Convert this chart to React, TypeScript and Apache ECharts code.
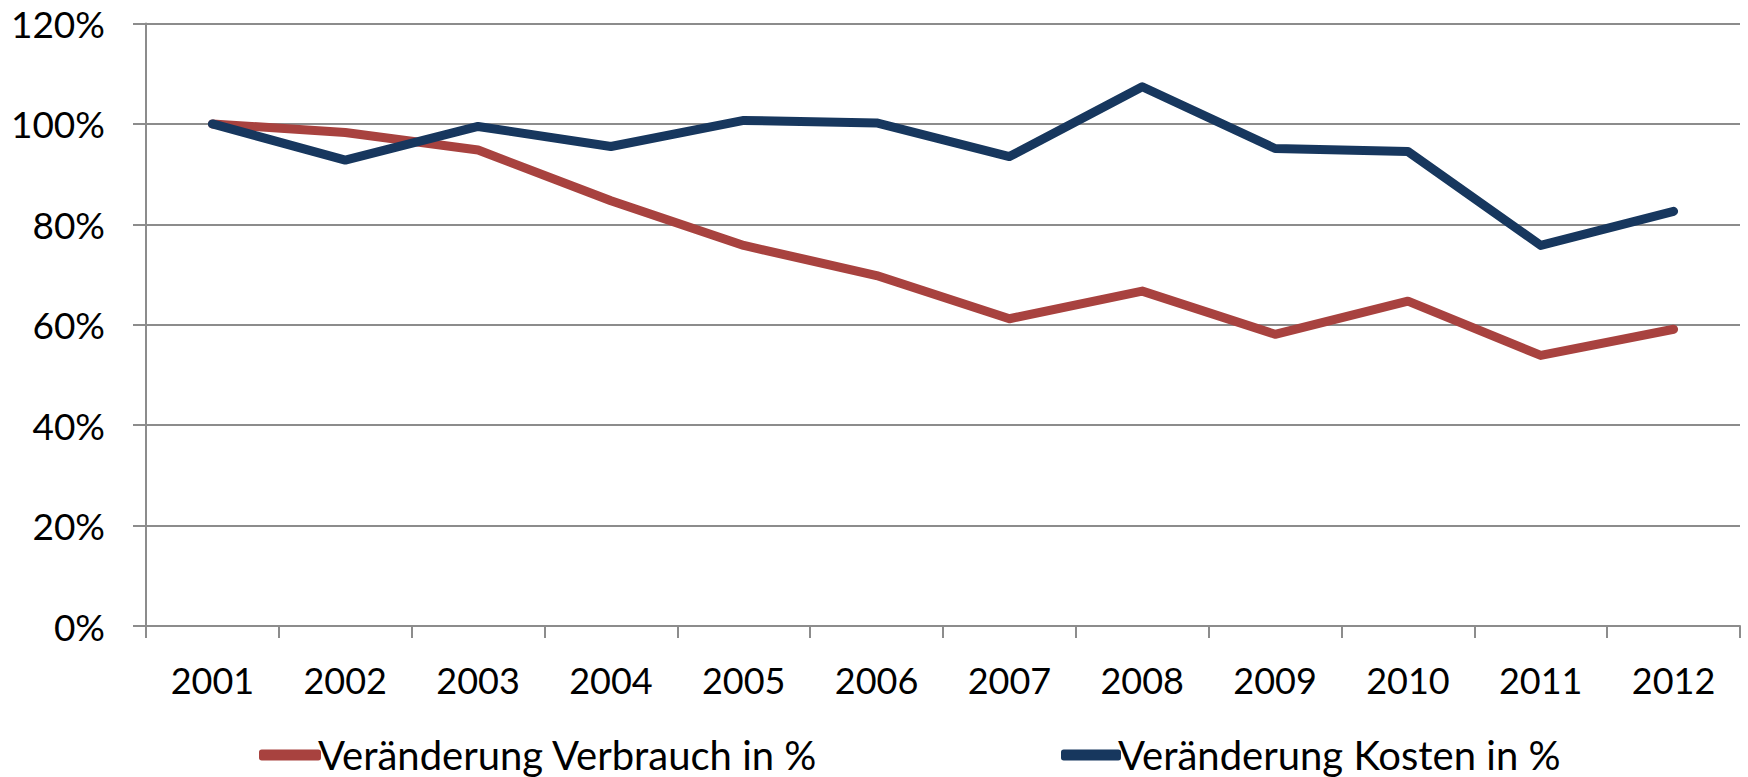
import React, { useEffect, useRef } from "react";
import * as echarts from "echarts";

const years = ["2001", "2002", "2003", "2004", "2005", "2006", "2007", "2008", "2009", "2010", "2011", "2012"];
const verbrauch = [100, 98.3, 94.8, 84.7, 75.8, 69.8, 61.2, 66.7, 58.1, 64.7, 53.9, 59.1];
const kosten = [100, 92.8, 99.5, 95.5, 100.7, 100.2, 93.5, 107.4, 95.1, 94.5, 75.8, 82.6];
const seriesNames = ["Veränderung Verbrauch in %", "Veränderung Kosten in %"];
const seriesColors = ["#A8423F", "#17375E"];

const FONT = "Lato";
const GRAY = "#8C8C8C";

export default function App() {
  const ref = useRef<HTMLDivElement>(null);
  useEffect(() => {
    if (!ref.current) return;
    const chart = echarts.init(ref.current, undefined, { renderer: "svg" });
    const textStyle = { fontFamily: FONT, fontSize: 36, color: "#000" };
    const legendText = {
      fontFamily: FONT,
      fontSize: 40,
      lineHeight: 40,
      color: "#000",
      padding: [0, 0, 0, -8],
    };
    chart.setOption({
      animation: false,
      backgroundColor: "#fff",
      textStyle: { fontFamily: FONT },
      grid: { left: 146, right: 8, top: 23.5, bottom: 151, containLabel: false },
      legend: [
        {
          data: [seriesNames[0]],
          left: 259,
          top: 735,
          padding: 0,
          icon: "roundRect",
          itemWidth: 62,
          itemHeight: 11,
          itemGap: 0,
          textStyle: legendText,
        },
        {
          data: [seriesNames[1]],
          left: 1061,
          top: 735,
          padding: 0,
          icon: "roundRect",
          itemWidth: 60,
          itemHeight: 11,
          itemGap: 0,
          textStyle: legendText,
        },
      ],
      xAxis: {
        type: "category",
        data: years,
        boundaryGap: true,
        axisLine: { show: true, lineStyle: { color: GRAY, width: 2 } },
        axisTick: { show: true, length: 12, lineStyle: { color: GRAY, width: 2 } },
        axisLabel: { ...textStyle, margin: 54, verticalAlign: "middle" },
        splitLine: { show: false },
      },
      yAxis: {
        type: "value",
        min: 0,
        max: 120,
        interval: 20,
        axisLine: { show: true, lineStyle: { color: GRAY, width: 2 } },
        axisTick: { show: true, length: 13, lineStyle: { color: GRAY, width: 2 } },
        axisLabel: { ...textStyle, fontSize: 37, margin: 41, formatter: "{value}%" },
        splitLine: { show: true, lineStyle: { color: GRAY, width: 2 } },
      },
      series: [
        {
          name: seriesNames[0],
          type: "line",
          data: verbrauch,
          showSymbol: false,
          symbol: "none",
          color: seriesColors[0],
          lineStyle: { color: seriesColors[0], width: 9, cap: "round", join: "round" },
        },
        {
          name: seriesNames[1],
          type: "line",
          data: kosten,
          showSymbol: false,
          symbol: "none",
          color: seriesColors[1],
          lineStyle: { color: seriesColors[1], width: 9, cap: "round", join: "round" },
        },
      ],
    });
    return () => chart.dispose();
  }, []);
  return (
    <div
      ref={ref}
      style={{ position: "fixed", left: 0, top: 0, width: 1748, height: 777, background: "#fff" }}
    />
  );
}
